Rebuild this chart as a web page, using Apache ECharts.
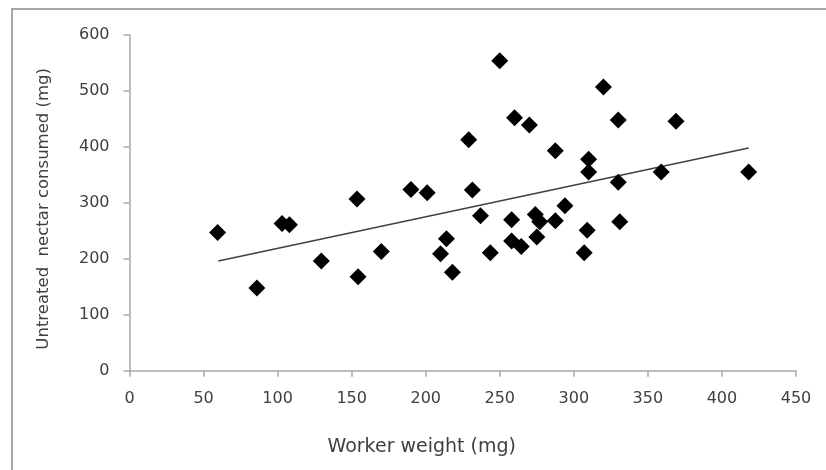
<!DOCTYPE html>
<html>
<head>
<meta charset="utf-8">
<script src="https://cdn.jsdelivr.net/npm/echarts@6/dist/echarts.min.js"></script>
<style>
html,body{margin:0;padding:0;background:#fff;}
#chart{width:826px;height:470px;}
</style>
</head>
<body>
<div id="chart"></div>
<script>
// Worker weight (mg)
var workerWeight = [59.5, 86, 103, 108, 129.5, 153.6, 154.3, 170, 190, 201, 210, 214, 218, 229, 231.5, 237, 243.6, 250, 258, 258, 260, 264.5, 270, 274, 277, 275, 287.5, 287.5, 294, 307, 309, 310, 310, 320, 330, 330, 331, 359, 369, 418];
// Untreated nectar consumed (mg)
var nectarConsumed = [247, 148, 263, 261, 196, 307, 168, 213, 324, 318, 209, 236, 176, 413, 323, 277, 211, 554, 270, 232, 452, 222, 439, 279, 266, 239, 393, 268, 295, 211, 251, 378, 355, 507, 448, 337, 266, 355, 446, 355];
// Linear trend line endpoints
var trendX = [60, 418];
var trendY = [196, 398];
var xTicks = [0, 50, 100, 150, 200, 250, 300, 350, 400, 450];
var yTicks = [0, 100, 200, 300, 400, 500, 600];

var points = workerWeight.map(function (x, i) { return [x, nectarConsumed[i]]; });
var trend = trendX.map(function (x, i) { return [x, trendY[i]]; });

var FONT = "'DejaVu Sans', sans-serif";
var chart = echarts.init(document.getElementById('chart'), null, {renderer: 'canvas'});
chart.setOption({
  animation: false,
  backgroundColor: '#ffffff',
  grid: {left: 129.5, right: 30, top: 35, bottom: 99.3, containLabel: false},
  graphic: [{
    type: 'rect',
    shape: {x: 12, y: 9, width: 840, height: 500},
    style: {fill: 'none', stroke: '#a6a6a6', lineWidth: 2},
    silent: true, z: -1
  }],
  xAxis: {
    type: 'value',
    min: xTicks[0], max: xTicks[xTicks.length - 1], interval: 50,
    name: 'Worker weight (mg)',
    nameLocation: 'middle', nameGap: 67,
    nameTextStyle: {fontFamily: FONT, fontSize: 19, color: '#404040', padding: [0, 82, 0, 0]},
    axisLine: {show: true, lineStyle: {color: '#a6a6a6', width: 1.5}},
    axisTick: {show: true, inside: false, length: 6, lineStyle: {color: '#a6a6a6', width: 1.5}},
    axisLabel: {fontFamily: FONT, fontSize: 16, color: '#404040', margin: 20},
    splitLine: {show: false}
  },
  yAxis: {
    type: 'value',
    min: yTicks[0], max: yTicks[yTicks.length - 1], interval: 100,
    name: 'Untreated  nectar consumed (mg)',
    nameLocation: 'middle', nameGap: 77,
    nameTextStyle: {fontFamily: FONT, fontSize: 16.5, color: '#404040', padding: [0, 12, 0, 0]},
    axisLine: {show: true, lineStyle: {color: '#a6a6a6', width: 1.5}},
    axisTick: {show: true, inside: false, length: 6, lineStyle: {color: '#a6a6a6', width: 1.5}},
    axisLabel: {fontFamily: FONT, fontSize: 16, color: '#404040', margin: 20},
    splitLine: {show: false}
  },
  series: [{
    type: 'scatter',
    data: points,
    symbol: 'diamond',
    symbolSize: 17,
    itemStyle: {color: '#000000', opacity: 1},
    z: 3
  }, {
    type: 'line',
    data: trend,
    symbol: 'none',
    lineStyle: {color: '#404040', width: 1.5},
    z: 2
  }]
});
</script>
</body>
</html>
